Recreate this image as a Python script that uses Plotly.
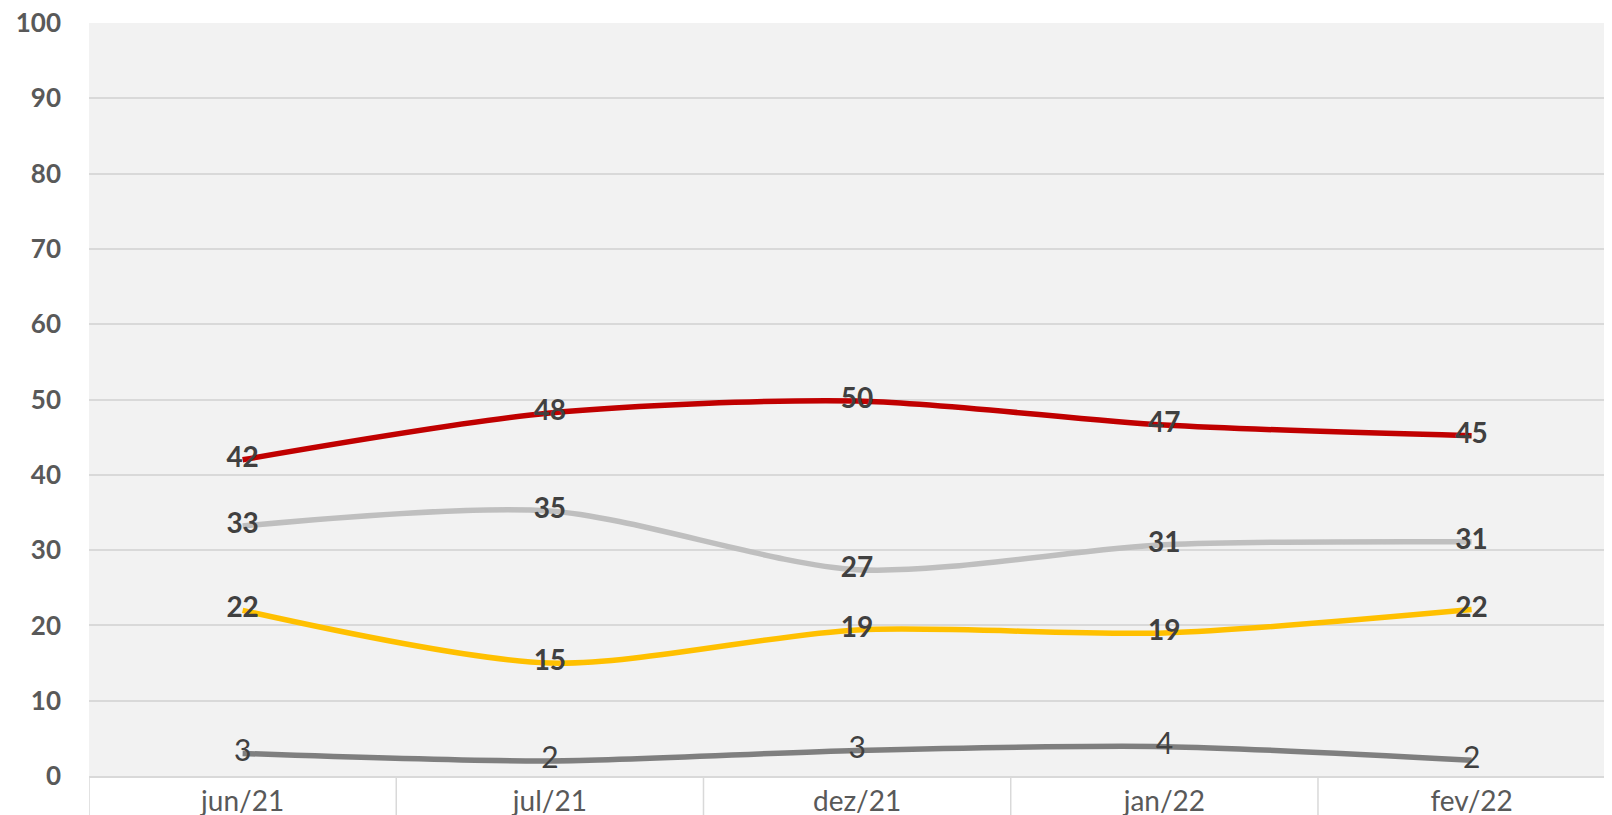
import plotly.graph_objects as go

categories = ["jun/21", "jul/21", "dez/21", "jan/22", "fev/22"]
red_values = [42.0, 48.2, 49.8, 46.6, 45.2]
lightgray_values = [33.2, 35.2, 27.4, 30.7, 31.1]
yellow_values = [22.0, 15.0, 19.4, 19.0, 22.1]
darkgray_values = [3.0, 2.0, 3.4, 3.9, 2.1]
y_ticks = [0, 10, 20, 30, 40, 50, 60, 70, 80, 90, 100]

series = [
    (red_values, "#C00000", True),
    (lightgray_values, "#BFBFBF", True),
    (yellow_values, "#FFC000", True),
    (darkgray_values, "#7F7F7F", False),
]

xs = list(range(len(categories)))
fig = go.Figure()

for vals, color, bold in series:
    fig.add_trace(go.Scatter(
        x=xs, y=vals, mode="lines",
        line=dict(color=color, width=5.5, shape="spline", smoothing=0.8),
        hoverinfo="skip", showlegend=False,
    ))

for vals, color, bold in series:
    fig.add_trace(go.Scatter(
        x=xs, y=vals, mode="text",
        text=[f"{round(v):d}" for v in vals],
        textposition="middle center",
        textfont=dict(family="Lato", size=28 if bold else 30,
                      color="#404040", weight="bold" if bold else "normal"),
        hoverinfo="skip", showlegend=False,
    ))

# category separators below the axis
for b in [i - 0.5 for i in range(len(categories) + 1)]:
    fig.add_shape(type="line", xref="x", yref="paper", x0=b, x1=b, y0=0, y1=-0.1,
                  line=dict(color="#D9D9D9", width=1.5), layer="above")

fig.update_layout(
    width=1612, height=815,
    margin=dict(l=81, r=0, t=15, b=47, autoexpand=False),
    paper_bgcolor="white",
    plot_bgcolor="#F2F2F2",
    xaxis=dict(
        range=[-0.5, 4.483],
        tickmode="array", tickvals=xs, ticktext=categories,
        showgrid=False, zeroline=False, automargin=False,
        showline=True, linecolor="#D9D9D9", linewidth=1.5,
        tickfont=dict(family="Lato", size=28, color="#595959"),
        ticks="", ticklabelstandoff=0, ticklabeloverflow="allow",
    ),
    yaxis=dict(
        range=[0, 100], automargin=False,
        tickmode="array", tickvals=y_ticks,
        showgrid=True, gridcolor="#D9D9D9", gridwidth=1.5,
        zeroline=False, showline=False,
        tickfont=dict(family="Lato", size=26, color="#595959", weight="bold"),
        ticks="", ticklabelstandoff=27, ticklabeloverflow="allow",
    ),
)

fig.write_html("out.html")
